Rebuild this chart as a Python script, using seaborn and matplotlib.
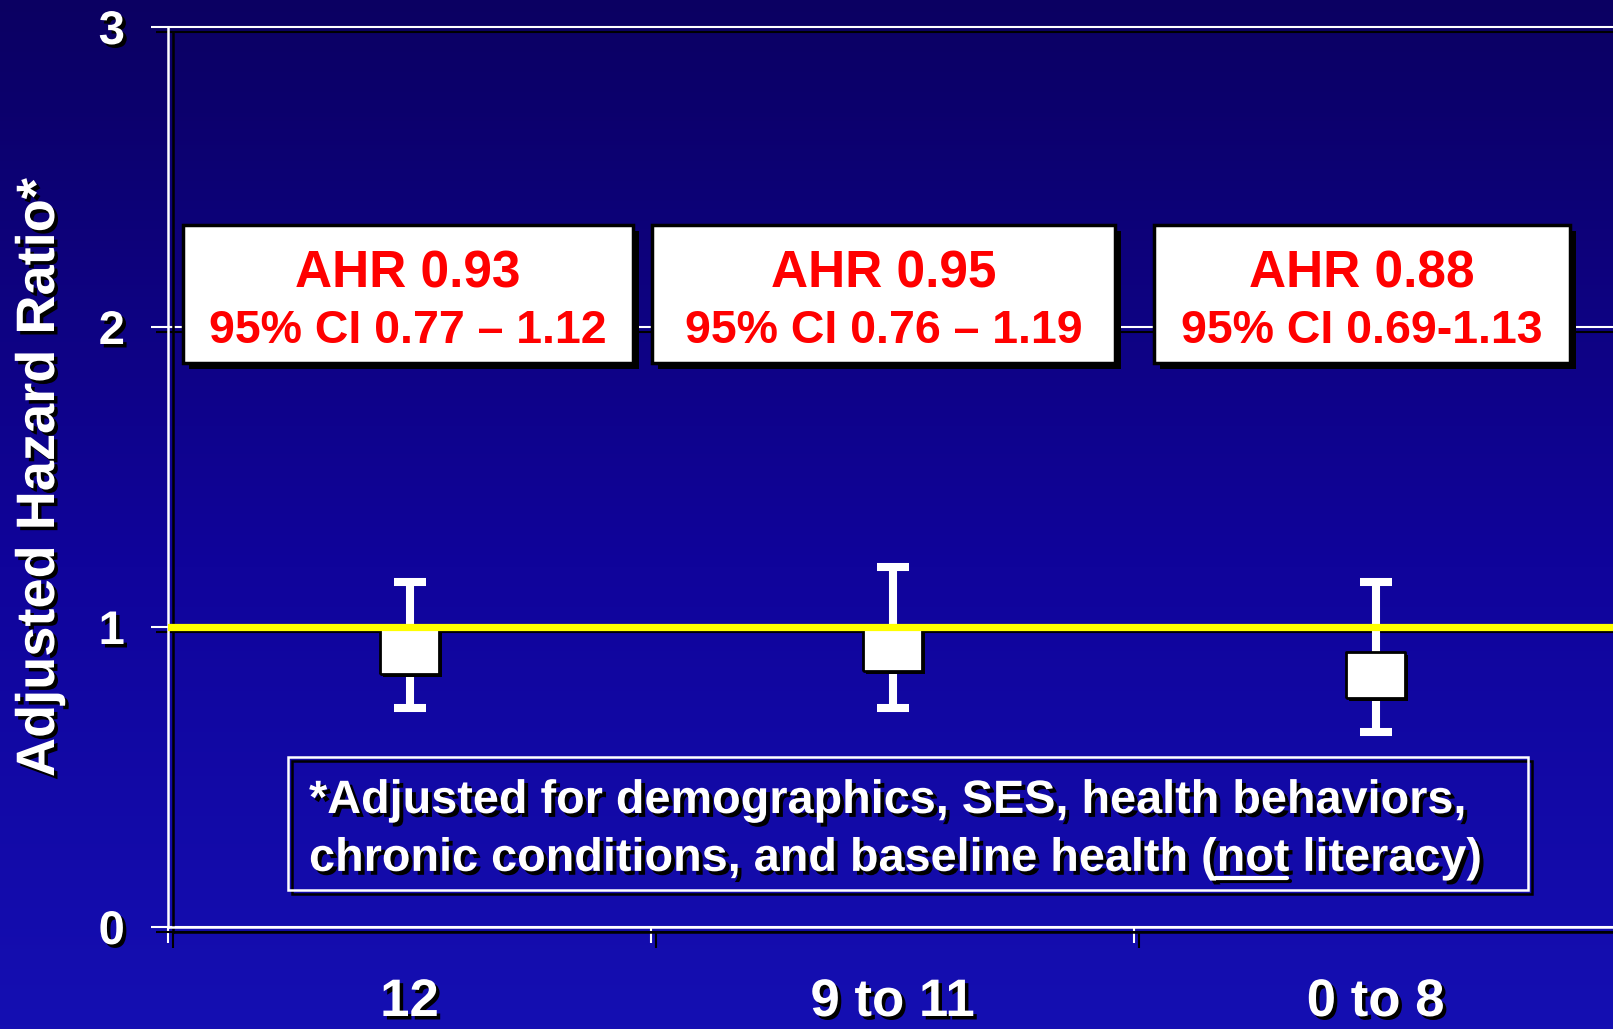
import numpy as np
import pandas as pd
import seaborn as sns
import matplotlib.pyplot as plt
import matplotlib.patheffects as pe
from matplotlib.patches import Rectangle
from matplotlib.lines import Line2D
from matplotlib.colors import LinearSegmentedColormap

# values
education = ["12", "9 to 11", "0 to 8"]
ahr_point = [0.92, 0.93, 0.84]
ci_low = [0.73, 0.73, 0.65]
ci_high = [1.15, 1.20, 1.15]
ahr_labels = ["AHR 0.93", "AHR 0.95", "AHR 0.88"]
ci_labels = ["95% CI 0.77 \u2013 1.12", "95% CI 0.76 \u2013 1.19", "95% CI 0.69-1.13"]
y_ticks = [0, 1, 2, 3]
note_line1 = "*Adjusted for demographics, SES, health behaviors,"
note_pre = "chronic conditions, and baseline health ("
note_under = "not"
note_post = " literacy)"

# layout of the label boxes (data units)
box_left = [-0.469, 0.502, 1.541]
box_right = [0.463, 1.461, 2.403]

sns.set_style("white")
plt.rcParams["font.family"] = ["Liberation Sans", "DejaVu Sans"]
plt.rcParams["font.weight"] = "bold"


def line_shadow(d=3.4):
    return [pe.SimpleLineShadow(offset=(d, -d), shadow_color="black", alpha=1), pe.Normal()]


def fill_shadow(d=2.5):
    return [pe.SimplePatchShadow(offset=(d, -d), shadow_rgbFace="black", alpha=1), pe.Normal()]


fig = plt.figure(figsize=(16.13, 10.29), dpi=100)

# slide background gradient
bg = fig.add_axes([0, 0, 1, 1], zorder=-10)
cmap = LinearSegmentedColormap.from_list(
    "slide", [(0, "#0b0062"), (0.55, "#10049b"), (1, "#150fb2")])
bg.imshow(np.linspace(0, 1, 256).reshape(-1, 1), aspect="auto", cmap=cmap,
          extent=[0, 1, 0, 1], origin="upper")
bg.axis("off")

ax = fig.add_axes([168 / 1613, 1 - 927 / 1029, 1449 / 1613, 900 / 1029])
ax.set_facecolor("none")

df = pd.DataFrame({"education": education, "ahr": ahr_point,
                   "low": ci_low, "high": ci_high})
pos = np.arange(len(df))

# error bars
ax.errorbar(pos, df["ahr"], yerr=[df["ahr"] - df["low"], df["high"] - df["ahr"]],
            fmt="none", ecolor="white", elinewidth=5.8, capsize=11.5,
            capthick=5.8, zorder=3)

# rectangular point markers
rect = [(-1, -0.76), (1, -0.76), (1, 0.76), (-1, 0.76), (-1, -0.76)]
sns.scatterplot(x=pos, y=df["ahr"], marker=rect, s=1850, color="white",
                edgecolor="black", linewidth=2, zorder=4, legend=False, ax=ax)
ax.collections[-1].set_path_effects(fill_shadow(2.2))

# reference line at 1
ax.axhline(1, color="#ffff00", lw=5.2, zorder=5)

ax.set_xlim(-0.5, 2.5)
ax.set_ylim(0, 3)
ax.set_xlabel("")
ax.set_ylabel("")

# axes styling
for side in ["top", "right"]:
    ax.spines[side].set_visible(False)
for side in ["left", "bottom"]:
    ax.spines[side].set_color("white")
    ax.spines[side].set_linewidth(1.8)
    ax.spines[side].set_path_effects(line_shadow())

ax.set_yticks(y_ticks, [str(v) for v in y_ticks])
ax.set_xticks(pos, education)
ax.set_xticks([-0.5, 0.5, 1.5, 2.5], minor=True)
ax.tick_params(axis="y", which="major", left=True, colors="white", length=12,
               width=1.5, pad=19, labelsize=34)
ax.tick_params(axis="x", which="major", bottom=True, length=0, pad=36,
               labelsize=38, labelcolor="white")
ax.tick_params(axis="x", which="minor", bottom=True, colors="white",
               length=11.5, width=1.5)
for lab in ax.get_yticklabels() + ax.get_xticklabels():
    lab.set_path_effects(fill_shadow(2.5))
    lab.set_fontweight("bold")
for t in ax.yaxis.get_major_ticks() + ax.xaxis.get_minor_ticks():
    t.tick1line.set_path_effects(line_shadow())

ax.grid(axis="y", color="white", lw=1.5)
ax.grid(axis="x", visible=False)
ax.set_axisbelow(True)
for gl in ax.get_ygridlines():
    gl.set_clip_on(False)
    gl.set_path_effects(line_shadow())

# y axis title
fig.text(40 / 1613, 1 - 478 / 1029, "Adjusted Hazard Ratio*", rotation=90,
         ha="center", va="center", fontsize=39, color="white",
         path_effects=fill_shadow(2.5))

# AHR boxes
for i in range(len(ahr_labels)):
    ax.add_patch(Rectangle((box_left[i], 1.88), box_right[i] - box_left[i], 0.46,
                           facecolor="white", edgecolor="black", lw=2.5, zorder=6,
                           path_effects=fill_shadow(4.3)))
    cx = (box_left[i] + box_right[i]) / 2
    ax.text(cx, 2.133, ahr_labels[i], color="#ff0000", fontsize=37,
            ha="center", va="baseline", zorder=7)
    ax.text(cx, 1.947, ci_labels[i], color="#ff0000", fontsize=33.5,
            ha="center", va="baseline", zorder=7)

# footnote box
ax.add_patch(Rectangle((-0.2516, 0.123), 2.3157 + 0.2516, 0.567 - 0.123,
                       facecolor="none", edgecolor="white", lw=1.8, zorder=6,
                       path_effects=line_shadow(3)))
note_kw = dict(color="white", fontsize=33.7, ha="left", va="baseline", zorder=7)
ax.text(-0.208, 0.38, note_line1, path_effects=fill_shadow(2.8), **note_kw)
ax.text(-0.208, 0.187, note_pre + note_under + note_post,
        path_effects=fill_shadow(2.8), **note_kw)

# underline under "not"
fig.canvas.draw()
renderer = fig.canvas.get_renderer()
tmp = ax.text(-0.208, 0.187, note_pre, **note_kw)
w_pre = tmp.get_window_extent(renderer).width
tmp.remove()
tmp = ax.text(-0.208, 0.187, note_pre + note_under, **note_kw)
w_both = tmp.get_window_extent(renderer).width
tmp.remove()
px, py = ax.transData.transform((-0.208, 0.187))
W, H = fig.bbox.width, fig.bbox.height
uy = (py - 7) / H
fig.add_artist(Line2D([(px + w_pre) / W, (px + w_both) / W], [uy, uy],
                      color="white", lw=3, zorder=8,
                      path_effects=line_shadow(2.2)))

fig.savefig("out.png", dpi=100)
